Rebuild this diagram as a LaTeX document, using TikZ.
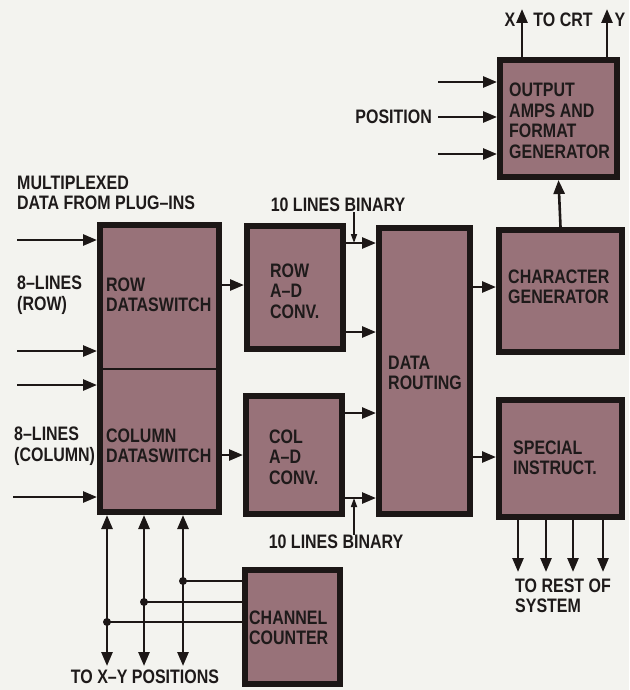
\documentclass[tikz,border=0pt]{standalone}
\usepackage{fontspec}
\setmainfont{Liberation Sans}[FakeStretch=0.82]
\usetikzlibrary{arrows.meta}
\definecolor{bgc}{RGB}{243,243,239}
\definecolor{boxc}{RGB}{152,114,121}
\definecolor{bord}{RGB}{28,23,22}
\definecolor{txtc}{RGB}{30,26,26}
\begin{document}
\begin{tikzpicture}[x=1pt,y=-1pt,
  box/.style={draw=bord, fill=boxc, line width=6pt, outer sep=3pt, inner sep=0pt},
  lbl/.style={font=\bfseries\fontsize{19.5}{20.5}\selectfont, align=left, inner sep=0pt, text=txtc},
  arr/.style={draw=bord, line width=2.6pt, -{Triangle[length=14pt,width=11pt]}},
  darr/.style={draw=bord, line width=2.6pt, {Triangle[length=14pt,width=11pt]}-{Triangle[length=14pt,width=11pt]}},
  wire/.style={draw=bord, line width=2.6pt},
  sarr/.style={draw=bord, line width=1.6pt, -{Triangle[length=9pt,width=6pt]}},
  dot/.style={circle, fill=bord, inner sep=0pt, minimum size=8pt}]
\fill[bgc] (0,0) rectangle (629,690);
\useasboundingbox (0,0) rectangle (629,690);

% boxes
\node[box, minimum width=117pt, minimum height=117pt] (out) at (558.5,118.5) {};
\node[box, minimum width=119pt, minimum height=287pt] (dsw) at (159.5,368.5) {};
\node[box, minimum width=96pt, minimum height=123pt] (rowad) at (295,287.5) {};
\node[box, minimum width=96pt, minimum height=118pt] (colad) at (294,455) {};
\node[box, minimum width=91pt, minimum height=286pt] (route) at (424.5,371) {};
\node[box, minimum width=123pt, minimum height=122pt] (chargen) at (560.5,291) {};
\node[box, minimum width=123pt, minimum height=117pt] (special) at (560.5,458.5) {};
\node[box, minimum width=95pt, minimum height=114pt] (counter) at (292.5,627) {};
\draw[draw=bord, line width=2pt] (dsw.west |- 0,369) -- (dsw.east |- 0,369);

% texts in boxes
\node[lbl, anchor=west] (toutput) at (509,121) {OUTPUT\\AMPS AND\\FORMAT\\GENERATOR};
\node[lbl, anchor=west] (trowsw) at (106,295) {ROW\\DATASWITCH};
\node[lbl, anchor=west] (tcolsw) at (106,446) {COLUMN\\DATASWITCH};
\node[lbl, anchor=west] (trowad) at (270,291) {ROW\\A--D\\CONV.};
\node[lbl, anchor=west] (tcolad) at (269,457) {COL\\A--D\\CONV.};
\node[lbl, anchor=west] (troute) at (388,373) {DATA\\ROUTING};
\node[lbl, anchor=west] (tchar) at (508,287) {CHARACTER\\GENERATOR};
\node[lbl, anchor=west] (tspec) at (513,458) {SPECIAL\\INSTRUCT.};
\node[lbl, anchor=west] (tcount) at (249,628) {CHANNEL\\COUNTER};

% outside texts
\node[lbl, anchor=west] (tmux) at (17,193) {MULTIPLEXED\\DATA FROM PLUG--INS};
\node[lbl, anchor=west] (t8row) at (17,295) {8--LINES\\(ROW)};
\node[lbl, anchor=west] (t8col) at (14,446) {8--LINES\\(COLUMN)};
\node[lbl, anchor=east] (tpos) at (432,117) {POSITION};
\node[lbl] (tx) at (510,20) {X};
\node[lbl] (tcrt) at (563,20) {TO CRT};
\node[lbl] (ty) at (620,20) {Y};
\node[lbl] (tlbtop) at (338,205) {10 LINES BINARY};
\node[lbl] (tlbbot) at (336,542) {10 LINES BINARY};
\node[lbl, anchor=west] (trest) at (515,596) {TO REST OF\\SYSTEM};
\node[lbl] (txy) at (145,677) {TO X--Y POSITIONS};

% inputs to dataswitch
\coordinate (i1) at (17,240);
\coordinate (i2) at (17,351);
\coordinate (i3) at (17,385);
\coordinate (i4) at (13,497);
\foreach \c in {i1,i2,i3,i4} \draw[arr] (\c) -- (\c -| dsw.west);

% dataswitch to A-D
\draw[arr] (dsw.east |- 0,285) -- (rowad.west |- 0,285);
\draw[arr] (dsw.east |- 0,455) -- (colad.west |- 0,455);

% A-D to routing
\draw[arr] (rowad.east |- 0,243) -- (route.west |- 0,243);
\draw[arr] (rowad.east |- 0,332) -- (route.west |- 0,332);
\draw[arr] (colad.east |- 0,413) -- (route.west |- 0,413);
\draw[arr] (colad.east |- 0,498) -- (route.west |- 0,498);

% 10 lines binary pointers
\coordinate (k1) at (354,243);
\coordinate (k2) at (354,498);
\draw[sarr] (tlbtop.south -| k1) -- (k1);
\draw[sarr] (tlbbot.north -| k2) -- (k2);

% routing to right boxes
\draw[arr] (route.east |- 0,287) -- (chargen.west |- 0,287);
\draw[arr] (route.east |- 0,457) -- (special.west |- 0,457);

% char gen to output
\draw[arr] (chargen.north) -- (out.south);

% position inputs
\coordinate (p1) at (438,82);
\coordinate (p2) at (438,117);
\coordinate (p3) at (438,154);
\foreach \c in {p1,p2,p3} \draw[arr] (\c) -- (\c -| out.west);

% outputs to CRT
\coordinate (cx) at (522,9);
\coordinate (cy) at (607,9);
\draw[arr] (out.north -| cx) -- (cx);
\draw[arr] (out.north -| cy) -- (cy);

% special outputs
\foreach \xx [count=\n] in {518,546,573,603} {
  \coordinate (r\n) at (\xx,572);
  \draw[arr] (special.south -| r\n) -- (r\n);
}

% X-Y position lines
\coordinate (v1) at (107,666);
\coordinate (v2) at (144,666);
\coordinate (v3) at (183,666);
\foreach \c in {v1,v2,v3} \draw[darr] (dsw.south -| \c) -- (\c);
\node[dot] (d3) at (183,581) {};
\node[dot] (d2) at (144,602) {};
\node[dot] (d1) at (107,622) {};
\draw[wire] (counter.west |- d3) -- (d3.center);
\draw[wire] (counter.west |- d2) -- (d2.center);
\draw[wire] (counter.west |- d1) -- (d1.center);
\end{tikzpicture}
\end{document}
